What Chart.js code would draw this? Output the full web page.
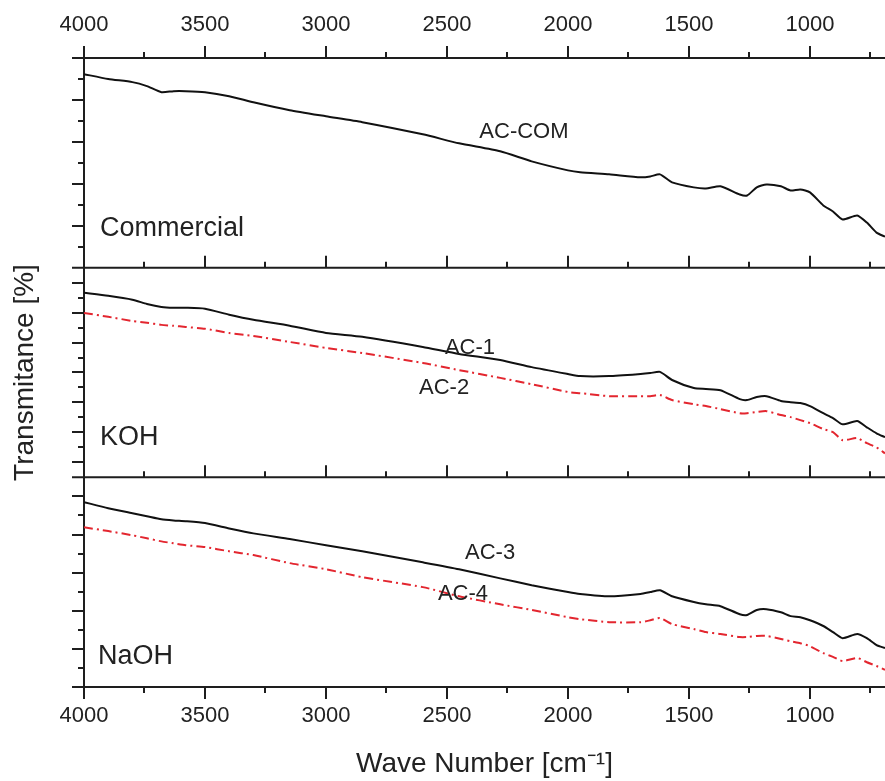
<!DOCTYPE html>
<html>
<head>
<meta charset="utf-8">
<script src="https://cdn.jsdelivr.net/npm/chart.js@4"></script>
<style>
  html, body { margin: 0; padding: 0; background: #fff; }
  #wrap { width: 885px; height: 781px; }
</style>
</head>
<body>
<div id="wrap"><canvas id="ftirChart"></canvas></div>
<script>
// wave numbers shared by every spectrum (cm-1)
const wavenumbers = [4000, 3900, 3800, 3740, 3680, 3630, 3580, 3500, 3400, 3300, 3150, 3000, 2850, 2600,
  2450, 2280, 2150, 2000, 1950, 1830, 1700, 1660, 1620, 1570, 1480, 1430, 1370, 1290, 1260, 1220, 1180,
  1120, 1080, 1040, 1000, 945, 905, 865, 805, 765, 725, 690]

// commercial panel
const acCom = [92.3, 90.0, 88.5, 86.6, 83.7, 84.2, 84.2, 83.7, 81.8, 78.9, 75.1, 72.2, 69.4, 63.6,
  59.3, 55.5, 50.7, 46.4, 45.5, 44.5, 43.1, 43.5, 44.5, 40.7, 38.3, 37.8, 38.8, 34.9, 34.4, 38.3, 39.7,
  38.8, 36.8, 37.3, 35.9, 29.7, 26.8, 23.0, 24.9, 21.5, 16.7, 14.8]

// KOH panel
const ac1 = [61.6, 60.6, 59.3, 57.9, 56.9, 56.6, 56.6, 56.3, 54.3, 52.6, 50.6, 48.2, 46.9, 43.5,
  41.2, 39.2, 36.8, 34.5, 33.8, 33.8, 34.5, 34.8, 35.2, 32.5, 29.8, 29.5, 29.1, 26.1, 25.8, 26.8, 27.1,
  25.5, 25.1, 24.8, 23.8, 21.4, 19.8, 17.7, 18.8, 16.7, 14.7, 13.4]
const ac2 = [54.9, 53.6, 52.2, 51.6, 50.9, 50.6, 50.2, 49.6, 48.2, 47.2, 45.2, 43.2, 41.5, 38.2,
  35.8, 33.2, 31.1, 28.5, 28.1, 27.1, 27.1, 27.1, 27.5, 25.8, 24.4, 23.8, 22.8, 21.4, 21.4, 21.8, 22.1,
  20.8, 20.1, 19.1, 18.1, 16.1, 15.1, 12.4, 13.1, 11.4, 10.0, 8.0]

// NaOH panel
const ac3 = [48.5, 46.9, 45.6, 44.8, 44.0, 43.7, 43.5, 43.0, 41.6, 40.3, 38.8, 37.2, 35.6, 32.7,
  30.9, 28.5, 26.7, 24.9, 24.4, 23.8, 24.4, 24.9, 25.4, 23.8, 22.3, 21.7, 21.2, 19.1, 18.9, 20.2, 20.4,
  19.6, 18.6, 18.3, 17.5, 16.0, 14.4, 12.8, 13.9, 12.8, 11.0, 10.2]
const ac4 = [41.9, 40.9, 39.8, 39.0, 38.2, 37.7, 37.2, 36.7, 35.6, 34.6, 32.5, 30.9, 28.8, 26.2,
  23.8, 21.7, 20.2, 18.3, 17.8, 17.0, 17.0, 17.5, 18.1, 16.5, 15.2, 14.4, 13.9, 13.1, 13.1, 13.4, 13.4,
  12.6, 12.0, 11.5, 10.7, 8.9, 7.9, 6.8, 7.6, 6.5, 5.5, 4.5]

// tick values
const xMajorTicks = [4000, 3500, 3000, 2500, 2000, 1500, 1000]
const xMinorTicks = [3750, 3250, 2750, 2250, 1750, 1250, 750]
const comMajor  = [20, 40, 60, 80]
const comMinor  = [10, 30, 50, 70, 90]
const kohMajor  = [5, 15, 25, 35, 45, 55, 65]
const kohMinor  = [10, 20, 30, 40, 50, 60]
const naohMajor = [10, 20, 30, 40, 50]
const naohMinor = [5, 15, 25, 35, 45]

const fontFamily = "'Liberation Sans', Arial, sans-serif"
const textColor  = '#222'
const frameColor = '#1e1e1e'
const redColor   = '#e3262f'

const toPoints = values => wavenumbers.map((w, i) => ({ x: w, y: values[i] }))

// frame, panel dividers and tick marks (major + minor)
const frameTicks = {
  id: 'frameTicks',
  afterDraw(chart) {
    const { ctx, chartArea: area, scales } = chart
    const x = scales.x
    const rows = [scales.yC.top, scales.yK.top, scales.yN.top, scales.yN.bottom]
    ctx.save()
    ctx.strokeStyle = frameColor
    ctx.lineWidth = 2
    ctx.beginPath()
    rows.forEach((row, r) => {
      ctx.moveTo(area.left - 12, row)
      ctx.lineTo(area.right, row)
      const dir = r === rows.length - 1 ? 1 : -1
      xMajorTicks.forEach(v => {
        const px = Math.round(x.getPixelForValue(v))
        ctx.moveTo(px, row)
        ctx.lineTo(px, row + dir * 12)
      })
      xMinorTicks.forEach(v => {
        const px = Math.round(x.getPixelForValue(v))
        ctx.moveTo(px, row)
        ctx.lineTo(px, row + dir * 6)
      })
    })
    const panels = [[scales.yC, comMajor, comMinor], [scales.yK, kohMajor, kohMinor], [scales.yN, naohMajor, naohMinor]]
    panels.forEach(([scale, major, minor]) => {
      major.forEach(v => {
        const py = Math.round(scale.getPixelForValue(v))
        ctx.moveTo(area.left, py)
        ctx.lineTo(area.left - 12, py)
      })
      minor.forEach(v => {
        const py = Math.round(scale.getPixelForValue(v))
        ctx.moveTo(area.left, py)
        ctx.lineTo(area.left - 6, py)
      })
    })
    ctx.stroke()
    ctx.restore()
  }
}

// series names and panel names, placed in data coordinates
const notes = [
  { text: 'AC-COM', x: 2182, y: 64.6, axis: 'yC', size: 22, align: 'center' },
  { text: 'Commercial', x: 3934, y: 18.7, axis: 'yC', size: 27, align: 'left' },
  { text: 'AC-1', x: 2405, y: 43.2, axis: 'yK', size: 22, align: 'center' },
  { text: 'AC-2', x: 2512, y: 29.8, axis: 'yK', size: 22, align: 'center' },
  { text: 'KOH', x: 3934, y: 13.4, axis: 'yK', size: 27, align: 'left' },
  { text: 'AC-3', x: 2322, y: 35.1, axis: 'yN', size: 22, align: 'center' },
  { text: 'AC-4', x: 2434, y: 24.5, axis: 'yN', size: 22, align: 'center' },
  { text: 'NaOH', x: 3942, y: 7.9, axis: 'yN', size: 27, align: 'left' }
]

const noteLabels = {
  id: 'noteLabels',
  afterDatasetsDraw(chart) {
    const { ctx, scales } = chart
    ctx.save()
    ctx.fillStyle = textColor
    ctx.textBaseline = 'middle'
    notes.forEach(n => {
      ctx.font = n.size + 'px ' + fontFamily
      ctx.textAlign = n.align
      ctx.fillText(n.text, scales.x.getPixelForValue(n.x), scales[n.axis].getPixelForValue(n.y))
    })
    ctx.restore()
  }
}

const panelAxis = (min, max, showTitle) => ({
  type: 'linear',
  position: 'left',
  stack: 'panels',
  stackWeight: 1,
  min: min,
  max: max,
  afterFit: s => { s.width = 84 },
  grid: { display: false, drawTicks: false },
  border: { display: true, color: frameColor, width: 2 },
  ticks: { display: false },
  title: {
    display: showTitle,
    text: 'Transmitance [%]',
    color: textColor,
    font: { family: fontFamily, size: 28 },
    padding: { top: 8, bottom: 0 }
  }
})

const lineStyle = (label, values, axis, red) => ({
  label: label,
  data: toPoints(values),
  yAxisID: axis,
  borderColor: red ? redColor : '#111',
  borderWidth: 2,
  borderDash: red ? [9, 4, 2, 4] : [],
  pointRadius: 0,
  fill: false,
  tension: 0.2
})

const ctx = document.getElementById('ftirChart').getContext('2d')

new Chart(ctx, {
  type: 'line',
  data: {
    datasets: [
      lineStyle('AC-COM', acCom, 'yC', false),
      lineStyle('AC-1', ac1, 'yK', false),
      lineStyle('AC-2', ac2, 'yK', true),
      lineStyle('AC-3', ac3, 'yN', false),
      lineStyle('AC-4', ac4, 'yN', true)
    ]
  },
  options: {
    responsive: true,
    maintainAspectRatio: false,
    animation: false,
    layout: { padding: 0 },
    plugins: {
      legend: { display: false },
      tooltip: { enabled: false }
    },
    scales: {
      x: {
        type: 'linear',
        position: 'bottom',
        reverse: true,
        min: 690,
        max: 4000,
        afterBuildTicks: s => { s.ticks = xMajorTicks.map(v => ({ value: v })) },
        afterFit: s => { s.height = 94 },
        grid: { display: false, drawTicks: false },
        border: { display: false },
        ticks: { padding: 16, color: textColor, font: { family: fontFamily, size: 22 }, maxRotation: 0, callback: v => String(v) },
        title: {
          display: true,
          text: 'Wave Number [cm\u207B\u00B9]',
          color: textColor,
          font: { family: fontFamily, size: 28 },
          padding: { top: 19, bottom: 0 }
        }
      },
      x2: {
        type: 'linear',
        position: 'top',
        reverse: true,
        min: 690,
        max: 4000,
        afterBuildTicks: s => { s.ticks = xMajorTicks.map(v => ({ value: v })) },
        afterFit: s => { s.height = 58 },
        grid: { display: false, drawTicks: false },
        border: { display: false },
        ticks: { padding: 20, color: textColor, font: { family: fontFamily, size: 22 }, maxRotation: 0, callback: v => String(v) }
      },
      yN: panelAxis(0, 55, false),
      yK: panelAxis(0, 70, true),
      yC: panelAxis(0, 100, false)
    }
  },
  plugins: [frameTicks, noteLabels]
})
</script>
</body>
</html>
